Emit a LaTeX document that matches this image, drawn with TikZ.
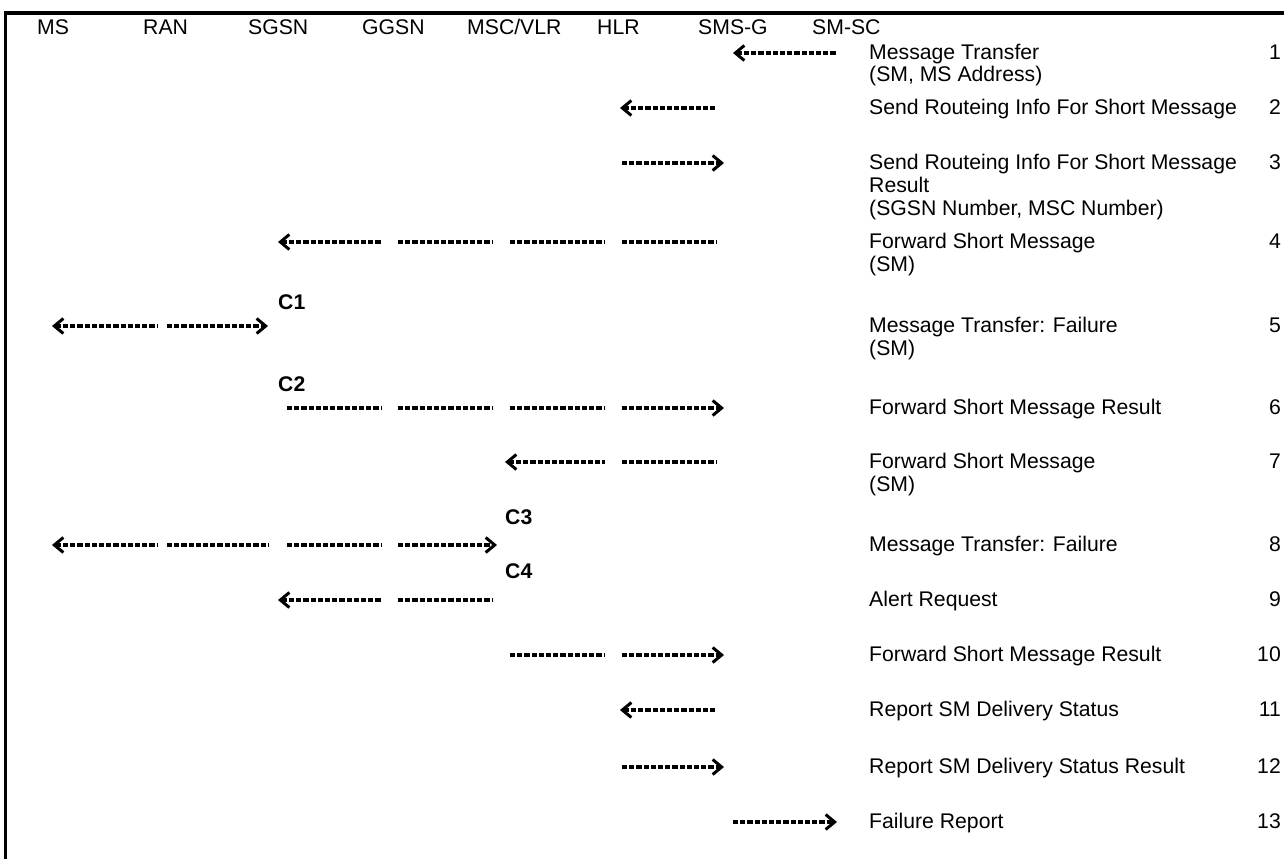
\documentclass[tikz,border=0pt]{standalone}
\usepackage{fontspec}
\setmainfont{Liberation Sans}
\usetikzlibrary{arrows.meta}
\tikzset{
  lbl/.style={inner sep=0pt, anchor=base west, font=\fontsize{21.2pt}{24pt}\selectfont},
  num/.style={inner sep=0pt, anchor=base east, font=\fontsize{21.2pt}{24pt}\selectfont},
  clbl/.style={inner sep=0pt, anchor=base west, font=\fontsize{21.2pt}{24pt}\selectfont\bfseries},
  dashline/.style={line width=3.2pt, dash pattern=on 5.2pt off 2.0pt},
  tipL/.style={arrows={Straight Barb[length=9pt,width=15pt,line width=3pt]-}},
  tipR/.style={arrows={-Straight Barb[length=9pt,width=15pt,line width=3pt]}},
  frame/.style={line width=3.8pt}
}
\newcommand{\dseg}[5]{%
  \coordinate (#1l) at (#2,#4);
  \coordinate (#1r) at (#3,#4);
  \draw[dashline,#5] (#1l) -- (#1r);}
\begin{document}
\begin{tikzpicture}[x=1pt,y=-1pt]
\useasboundingbox (0,0) rectangle (1284,859);
% frame
\coordinate (fbl) at (5.5,859);
\coordinate (ftr) at (1284,13);
\draw[frame] (fbl) |- (ftr);
% headers
\node[lbl] (hMS)   at (37,34.5)  {MS};
\node[lbl] (hRAN)  at (143,34.5) {RAN};
\node[lbl] (hSGSN) at (248,34.5) {SGSN};
\node[lbl] (hGGSN) at (362,34.5) {GGSN};
\node[lbl] (hMSC)  at (467,34.5) {MSC/VLR};
\node[lbl] (hHLR)  at (597,34.5) {HLR};
\node[lbl] (hSMSG) at (698,34.5) {SMS-G};
\node[lbl] (hSMSC) at (812,34.5) {SM-SC};
% message texts
\node[lbl] (t1a)  at (869,59.5)  {Message Transfer};
\node[lbl] (t1b)  at (869,81.5)  {(SM, MS Address)};
\node[lbl] (t2)   at (869,114.5) {Send Routeing Info For Short Message};
\node[lbl] (t3a)  at (869,169.5) {Send Routeing Info For Short Message};
\node[lbl] (t3b)  at (869,192.5) {Result};
\node[lbl] (t3c)  at (869,215.5) {(SGSN Number, MSC Number)};
\node[lbl] (t4a)  at (869,248.5) {Forward Short Message};
\node[lbl] (t4b)  at (869,271.5) {(SM)};
\node[lbl] (t5a)  at (869,332.5) {Message Transfer: Failure};
\node[lbl] (t5b)  at (869,355.5) {(SM)};
\node[lbl] (t6)   at (869,414.5) {Forward Short Message Result};
\node[lbl] (t7a)  at (869,468.5) {Forward Short Message};
\node[lbl] (t7b)  at (869,491.5) {(SM)};
\node[lbl] (t8)   at (869,551.5) {Message Transfer: Failure};
\node[lbl] (t9)   at (869,606.5) {Alert Request};
\node[lbl] (t10)  at (869,661.5) {Forward Short Message Result};
\node[lbl] (t11)  at (869,716.5) {Report SM Delivery Status};
\node[lbl] (t12)  at (869,773.5) {Report SM Delivery Status Result};
\node[lbl] (t13)  at (869,828.5) {Failure Report};
% numbers
\node[num] (n1)  at (1281,59.5)  {1};
\node[num] (n2)  at (1281,114.5) {2};
\node[num] (n3)  at (1281,169.5) {3};
\node[num] (n4)  at (1281,248.5) {4};
\node[num] (n5)  at (1281,332.5) {5};
\node[num] (n6)  at (1281,414.5) {6};
\node[num] (n7)  at (1281,468.5) {7};
\node[num] (n8)  at (1281,551.5) {8};
\node[num] (n9)  at (1281,606.5) {9};
\node[num] (n10) at (1281,661.5) {10};
\node[num] (n11) at (1281,716.5) {11};
\node[num] (n12) at (1281,773.5) {12};
\node[num] (n13) at (1281,828.5) {13};
% C labels
\node[clbl] (c1) at (278,309.5) {C1};
\node[clbl] (c2) at (278,391.5) {C2};
\node[clbl] (c3) at (505,524.5) {C3};
\node[clbl] (c4) at (505,578.5) {C4};
% dashed arrows
\dseg{a1}{733}{837}{53}{tipL}
\dseg{a2}{620}{717}{108}{tipL}
\dseg{a3}{622}{724}{163}{tipR}
\dseg{a4a}{278}{382}{242}{tipL}
\dseg{a4b}{398}{492}{242}{}
\dseg{a4c}{510}{605}{242}{}
\dseg{a4d}{622}{717}{242}{}
\dseg{a5a}{52}{157}{326}{tipL}
\dseg{a5b}{167}{268}{326}{tipR}
\dseg{a6a}{287}{382}{408}{}
\dseg{a6b}{398}{492}{408}{}
\dseg{a6c}{510}{605}{408}{}
\dseg{a6d}{622}{724}{408}{tipR}
\dseg{a7a}{505}{605}{462}{tipL}
\dseg{a7b}{622}{717}{462}{}
\dseg{a8a}{52}{157}{545}{tipL}
\dseg{a8b}{167}{268}{545}{}
\dseg{a8c}{287}{382}{545}{}
\dseg{a8d}{398}{497}{545}{tipR}
\dseg{a9a}{278}{382}{600}{tipL}
\dseg{a9b}{398}{492}{600}{}
\dseg{a10a}{510}{605}{655}{}
\dseg{a10b}{622}{724}{655}{tipR}
\dseg{a11}{620}{717}{710}{tipL}
\dseg{a12}{622}{724}{767}{tipR}
\dseg{a13}{733}{837}{822}{tipR}
\end{tikzpicture}
\end{document}
